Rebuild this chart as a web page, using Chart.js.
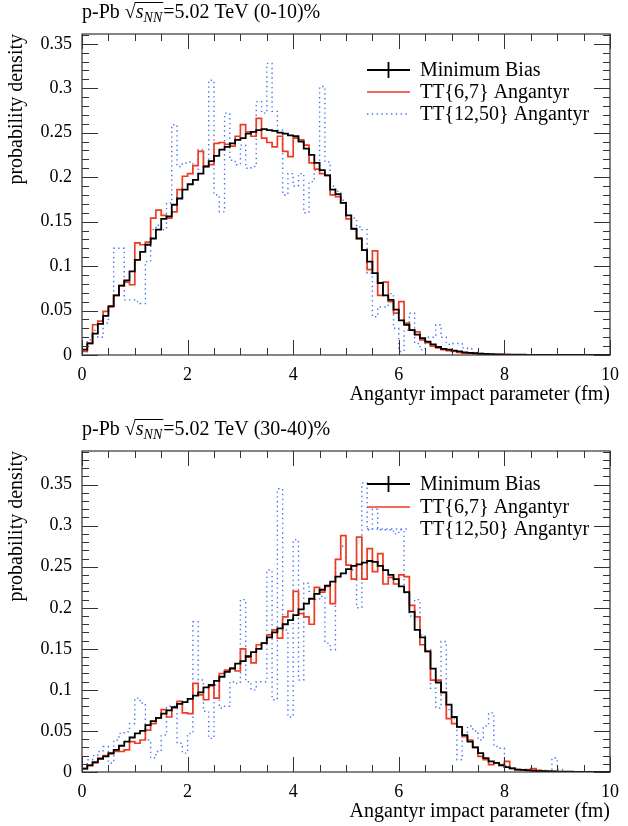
<!DOCTYPE html>
<html>
<head>
<meta charset="utf-8">
<script src="https://cdn.jsdelivr.net/npm/chart.js@4.4.1/dist/chart.umd.min.js"></script>
<style>
html, body { margin: 0; padding: 0; background: #fff; }
canvas { display: block; }
</style>
</head>
<body>
<canvas id="panelTop" width="628" height="413"></canvas>
<canvas id="panelBottom" width="628" height="413"></canvas>
<script>
// histogram binning: 100 bins of 0.1 fm from 0 to 10
var binWidth = 0.1;
var xTicks = [0, 2, 4, 6, 8, 10];
var yTicks = [0, 0.05, 0.1, 0.15, 0.2, 0.25, 0.3, 0.35];
var seriesNames = ["Minimum Bias", "TT{6,7} Angantyr", "TT{12,50} Angantyr"];
var centralities = ["0-10", "30-40"];
var xTitle = "Angantyr impact parameter (fm)";
var yTitle = "probability density";

// (0-10)% panel
var mbTop = [0.006,0.013,0.024,0.035,0.044,0.055,0.067,0.078,0.084,0.094,
  0.107,0.116,0.124,0.131,0.141,0.153,0.156,0.169,0.176,0.186,
  0.192,0.197,0.204,0.212,0.218,0.224,0.231,0.234,0.238,0.242,
  0.244,0.249,0.251,0.253,0.254,0.253,0.252,0.250,0.249,0.247,
  0.246,0.240,0.232,0.225,0.216,0.208,0.202,0.186,0.181,0.171,
  0.157,0.142,0.131,0.118,0.105,0.092,0.081,0.067,0.062,0.051,
  0.039,0.034,0.028,0.023,0.019,0.015,0.012,0.009,0.007,0.006,
  0.005,0.004,0.003,0.0025,0.002,0.0015,0.0012,0.001,0.0008,0.0006,
  0.0005,0.0004,0.0003,0.0003,0.0002,0.0002,0.0001,0.0001,0.0001,0.0001,
  0,0,0,0,0,0,0,0,0,0];
var ttTop = [0.004,0.013,0.034,0.038,0.049,0.054,0.067,0.078,0.082,0.079,
  0.126,0.124,0.127,0.154,0.163,0.157,0.154,0.161,0.186,0.201,
  0.204,0.213,0.229,0.212,0.214,0.238,0.239,0.237,0.235,0.246,
  0.259,0.251,0.246,0.266,0.244,0.239,0.234,0.246,0.229,0.223,
  0.244,0.242,0.236,0.216,0.209,0.204,0.202,0.180,0.178,0.171,
  0.153,0.142,0.131,0.118,0.096,0.117,0.067,0.082,0.060,0.047,
  0.060,0.036,0.028,0.026,0.017,0.014,0.010,0.008,0.006,0.005,
  0.004,0.003,0.002,0.002,0.0015,0.001,0.001,0.0008,0.0006,0.0005,
  0.0004,0.0003,0.0002,0.0002,0.0001,0,0,0,0,0,
  0,0,0,0,0,0,0,0,0,0];
var blTop = [0.004,0.017,0.028,0.020,0.036,0.054,0.120,0.120,0.062,0.062,
  0.060,0.058,0.105,0.141,0.146,0.141,0.171,0.259,0.212,0.216,
  0.217,0.204,0.231,0.213,0.309,0.180,0.161,0.272,0.219,0.214,
  0.236,0.210,0.212,0.285,0.272,0.328,0.274,0.253,0.180,0.204,
  0.190,0.204,0.160,0.195,0.208,0.302,0.217,0.190,0.184,0.174,
  0.157,0.154,0.144,0.141,0.092,0.043,0.054,0.054,0.069,0.030,
  0.004,0.028,0.047,0.013,0.006,0.020,0.020,0.034,0.020,0.012,
  0.013,0.013,0.008,0.007,0.003,0.002,0.001,0,0,0,
  0,0,0,0,0,0,0,0,0,0,
  0,0,0,0,0,0,0,0,0,0];

// (30-40)% panel
var mbBot = [0.004,0.008,0.012,0.016,0.019,0.023,0.027,0.032,0.037,0.042,
  0.047,0.050,0.057,0.062,0.066,0.071,0.075,0.079,0.083,0.085,
  0.089,0.093,0.097,0.103,0.106,0.111,0.116,0.122,0.126,0.132,
  0.135,0.141,0.146,0.150,0.157,0.164,0.170,0.175,0.180,0.185,
  0.191,0.198,0.205,0.211,0.217,0.222,0.227,0.232,0.238,0.242,
  0.247,0.251,0.253,0.255,0.257,0.256,0.251,0.246,0.240,0.235,
  0.226,0.219,0.195,0.173,0.164,0.147,0.126,0.109,0.097,0.082,
  0.067,0.055,0.045,0.037,0.030,0.023,0.017,0.013,0.011,0.008,
  0.006,0.0045,0.003,0.0025,0.002,0.0015,0.001,0.001,0.0008,0.0006,
  0.0005,0.0004,0.0003,0.0002,0.0002,0.0001,0.0001,0.0001,0.0001,0];
var ttBot = [0.004,0.008,0.011,0.017,0.020,0.022,0.025,0.025,0.027,0.037,
  0.035,0.039,0.051,0.059,0.066,0.076,0.067,0.078,0.086,0.072,
  0.071,0.108,0.094,0.088,0.105,0.090,0.120,0.124,0.127,0.123,
  0.150,0.140,0.133,0.155,0.157,0.167,0.173,0.163,0.189,0.196,
  0.220,0.193,0.189,0.180,0.225,0.219,0.226,0.205,0.259,0.288,
  0.252,0.235,0.286,0.235,0.272,0.244,0.266,0.229,0.237,0.229,
  0.240,0.238,0.203,0.189,0.155,0.147,0.112,0.112,0.097,0.065,
  0.059,0.055,0.043,0.039,0.030,0.019,0.015,0.009,0.011,0.009,
  0.013,0.0045,0.003,0.0025,0.003,0.004,0.002,0.001,0.001,0.0005,
  0,0,0,0,0,0,0,0,0,0];
var blBot = [0.004,0.015,0.020,0.025,0.031,0.011,0.039,0.047,0.049,0.059,
  0.090,0.084,0.039,0.017,0.025,0.045,0.080,0.080,0.035,0.023,
  0.047,0.183,0.112,0.074,0.041,0.106,0.078,0.080,0.110,0.108,
  0.210,0.110,0.100,0.110,0.110,0.246,0.088,0.345,0.173,0.067,
  0.283,0.112,0.230,0.220,0.210,0.214,0.157,0.149,0.259,0.275,
  0.252,0.246,0.200,0.352,0.295,0.320,0.295,0.295,0.295,0.290,
  0.295,0.218,0.190,0.210,0.167,0.149,0.102,0.078,0.159,0.076,
  0.065,0.015,0.043,0.056,0.050,0.039,0.056,0.072,0.031,0.029,
  0.007,0.005,0.003,0.003,0.002,0.002,0.002,0.002,0.001,0.017,
  0.003,0,0,0,0,0,0,0,0,0];

var FONT = "'Liberation Serif', 'DejaVu Serif', serif";
var RED = "#ee3b22";
var BLUE = "#4674f5";

// turn bin contents into step points at the lower bin edges (+ closing edge)
function toSteps(vals) {
  var pts = vals.map(function (v, i) { return { x: i * binWidth, y: v }; });
  pts.push({ x: vals.length * binWidth, y: vals[vals.length - 1] });
  return pts;
}

var framePlugin = {
  id: 'frame',
  afterDatasetsDraw: function (chart) {
    var ctx = chart.ctx, a = chart.chartArea;
    var xs = chart.scales.x, ys = chart.scales.y;
    ctx.save();
    ctx.strokeStyle = '#333';
    ctx.lineWidth = 1.2;
    ctx.strokeRect(a.left, a.top, a.right - a.left, a.bottom - a.top);
    ctx.lineWidth = 1;
    ctx.beginPath();
    // x ticks: major every 2, minor every 0.5, on bottom and top
    for (var k = 0; k <= 20; k++) {
      var px = Math.round(xs.getPixelForValue(k * 0.5)) + 0.5;
      var len = (k % 4 === 0) ? 15 : 7;
      ctx.moveTo(px, a.bottom); ctx.lineTo(px, a.bottom - len);
      ctx.moveTo(px, a.top); ctx.lineTo(px, a.top + len);
    }
    // y ticks: major every 0.05, minor every 0.01, on left and right
    for (var j = 0; j * 0.01 <= ys.max + 1e-9; j++) {
      var py = Math.round(ys.getPixelForValue(j * 0.01)) + 0.5;
      var l2 = (j % 5 === 0) ? 16 : 7;
      ctx.moveTo(a.left, py); ctx.lineTo(a.left + l2, py);
      ctx.moveTo(a.right, py); ctx.lineTo(a.right - l2, py);
    }
    ctx.stroke();
    ctx.restore();
  },
  afterDraw: function (chart, args, opts) {
    var ctx = chart.ctx, a = chart.chartArea;
    ctx.save();
    // legend
    ctx.font = "20px " + FONT;
    ctx.textBaseline = 'middle';
    ctx.fillStyle = '#000';
    chart.data.datasets.forEach(function (ds, i) {
      var y = a.top + opts.legendY[i];
      ctx.save();
      ctx.strokeStyle = ds.borderColor;
      ctx.lineWidth = ds.borderWidth;
      ctx.setLineDash(ds.borderDash || []);
      ctx.beginPath();
      ctx.moveTo(367, y); ctx.lineTo(410, y);
      if (i === 0) { ctx.moveTo(388.5, y - 8); ctx.lineTo(388.5, y + 8); }
      ctx.stroke();
      ctx.restore();
      ctx.fillText(ds.label, 420, y + 1);
    });
    // panel title: p-Pb sqrt(s_NN)=5.02 TeV (c)%
    var x = a.left, yb = a.top - 16;
    ctx.textBaseline = 'alphabetic';
    ctx.font = "20px " + FONT;
    ctx.fillText("p-Pb ", x, yb); x += ctx.measureText("p-Pb ").width;
    ctx.fillText("\u221A", x, yb); x += ctx.measureText("\u221A").width;
    var x0 = x;
    ctx.font = "italic 20px " + FONT;
    ctx.fillText("s", x, yb); x += ctx.measureText("s").width;
    ctx.font = "italic 14px " + FONT;
    ctx.fillText("NN", x, yb + 4); x += ctx.measureText("NN").width;
    ctx.strokeStyle = '#000'; ctx.lineWidth = 1;
    ctx.beginPath(); ctx.moveTo(x0 - 1, yb - 15.5); ctx.lineTo(x + 1, yb - 15.5); ctx.stroke();
    ctx.font = "20px " + FONT;
    ctx.fillText("=5.02 TeV (" + opts.centrality + ")%", x + 1, yb);
    ctx.restore();
  }
};

function makePanel(id, mb, tt, bl, yMax, centrality, plotTop, axisH, xTitlePad, legendY) {
  return new Chart(document.getElementById(id), {
    type: 'line',
    data: {
      datasets: [
        { label: seriesNames[0], data: toSteps(mb), borderColor: '#000', borderWidth: 1.8, stepped: true, pointRadius: 0 },
        { label: seriesNames[1], data: toSteps(tt), borderColor: RED, borderWidth: 1.7, stepped: true, pointRadius: 0 },
        { label: seriesNames[2], data: toSteps(bl), borderColor: BLUE, borderWidth: 1.4, borderDash: [1.4, 3.4], stepped: true, pointRadius: 0 }
      ]
    },
    options: {
      responsive: false,
      animation: false,
      events: [],
      layout: { padding: { left: 0, right: 11, top: plotTop, bottom: 0 } },
      plugins: {
        legend: { display: false },
        tooltip: { enabled: false },
        frame: { centrality: centrality, legendY: legendY }
      },
      scales: {
        x: {
          type: 'linear', min: 0, max: 10,
          grid: { display: false, drawTicks: false },
          border: { display: false },
          afterBuildTicks: function (s) { s.ticks = xTicks.map(function (v) { return { value: v }; }); },
          afterFit: function (s) { s.height = axisH; },
          ticks: { padding: 9, color: '#000', maxRotation: 0, font: { family: FONT, size: 18 },
            callback: function (v) { return String(v); } },
          title: { display: true, text: xTitle, align: 'end', color: '#000',
            font: { family: FONT, size: 20 }, padding: { top: 0, bottom: xTitlePad } }
        },
        y: {
          type: 'linear', min: 0, max: yMax,
          grid: { display: false, drawTicks: false },
          border: { display: false },
          afterBuildTicks: function (s) { s.ticks = yTicks.map(function (v) { return { value: v }; }); },
          afterFit: function (s) { s.width = 82; },
          ticks: { padding: 10, color: '#000', font: { family: FONT, size: 18 },
            callback: function (v) { return String(+v.toFixed(2)); } },
          title: { display: true, text: yTitle, align: 'end', color: '#000',
            font: { family: FONT, size: 20 }, padding: { top: 5, bottom: 0 } }
        }
      }
    },
    plugins: [framePlugin]
  });
}

makePanel('panelTop', mbTop, ttTop, blTop, 0.361, centralities[0], 34, 58, 6, [36, 58, 80]);
makePanel('panelBottom', mbBot, ttBot, blBot, 0.391, centralities[1], 38, 54, 2, [33, 56, 78]);
</script>
</body>
</html>
